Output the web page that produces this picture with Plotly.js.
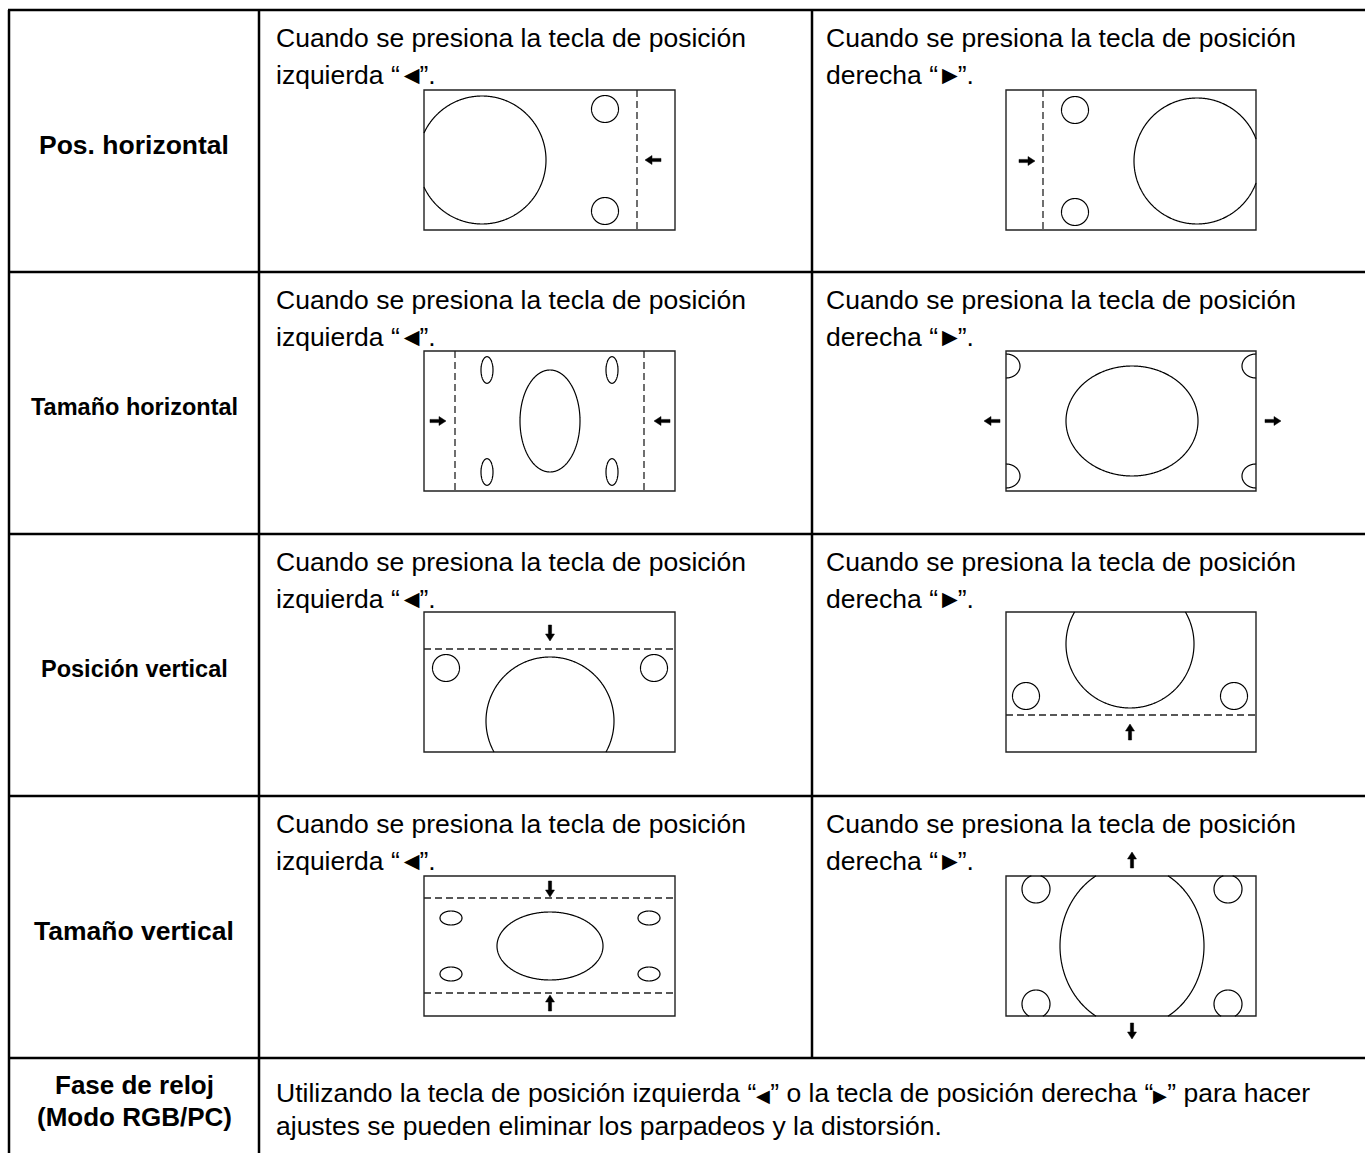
<!DOCTYPE html>
<html>
<head>
<meta charset="utf-8">
<script src="https://cdn.plot.ly/plotly-3.0.1.min.js"></script>
<style>
  body { margin: 0; background: #fff; }
  #graph { width: 1365px; height: 1153px; }
</style>
</head>
<body>
<div id="graph"></div>
<script>
// *********************************************************************************************
// DATA

const ROW_LABELS = [
    ["Pos. horizontal"],
    ["Tamaño horizontal"],
    ["Posición vertical"],
    ["Tamaño vertical"],
    ["Fase de reloj", "(Modo RGB/PC)"]
];
const LEFT_TEXT = ["Cuando se presiona la tecla de posición", "izquierda <span style=\"letter-spacing:-1px\">“</span><span style=\"font-size:26px;letter-spacing:-5px\">◄</span>”."];
const RIGHT_TEXT = ["Cuando se presiona la tecla de posición", "derecha <span style=\"letter-spacing:-1px\">“</span><span style=\"font-size:26px;letter-spacing:-5px\">►</span>”."];
const NOTE_TEXT = [
    "Utilizando la tecla de posición izquierda “<span style=\"font-size:18px\">◀</span>” o la tecla de posición derecha “<span style=\"font-size:18px\">▶</span>” para hacer",
    "ajustes se pueden eliminar los parpadeos y la distorsión."
];

// table grid (px)
const ROW_LINES = [10, 272, 534, 796, 1058];
const COL_LINES = [9, 259, 812];

// screen boxes: left / right column, one per row
const SCREEN_X = [[424, 675], [1006, 1256]];
const SCREEN_TOP = [90, 351, 612, 876];
const SCREEN_H = 140;

// ellipses [panel, cx, cy, rx, ry]  (panel = row * 2 + side)
const ELLIPSES = [
    [0, 482, 160, 64, 64], [0, 605, 109, 13.5, 13.5], [0, 605, 211, 13.5, 13.5],
    [1, 1197, 161, 63, 63], [1, 1075, 110, 13.5, 13.5], [1, 1075, 212, 13.5, 13.5],
    [2, 550, 421, 30, 51], [2, 487, 370, 6, 13.3], [2, 612, 370, 6, 13.3], [2, 487, 472, 6, 13.3], [2, 612, 472, 6, 13.3],
    [3, 1132, 421, 66, 55], [3, 1006, 366, 14, 12], [3, 1006, 476, 14, 12], [3, 1256, 366, 14, 12], [3, 1256, 476, 14, 12],
    [4, 550, 721, 64, 64], [4, 446, 668, 13.5, 13.5], [4, 654, 668, 13.5, 13.5],
    [5, 1130, 644, 64, 64], [5, 1026, 696, 13.5, 13.5], [5, 1234, 696, 13.5, 13.5],
    [6, 550, 946, 53, 34], [6, 451, 918, 11, 7], [6, 649, 918, 11, 7], [6, 451, 974, 11, 7], [6, 649, 974, 11, 7],
    [7, 1132, 946, 72, 81], [7, 1036, 889, 14, 14], [7, 1228, 889, 14, 14], [7, 1036, 1004, 14, 14], [7, 1228, 1004, 14, 14]
];

// dashed guides [panel, orientation, position]
const GUIDES = [
    [0, "v", 637], [1, "v", 1043],
    [2, "v", 455], [2, "v", 644],
    [4, "h", 649], [5, "h", 715],
    [6, "h", 898], [6, "h", 993]
];

// arrows [cx, cy, direction]
const ARROWS = [
    [653, 160, "left"], [1027, 161, "right"],
    [438, 421, "right"], [662, 421, "left"], [992, 421, "left"], [1273, 421, "right"],
    [550, 633, "down"], [1130, 732, "up"],
    [550, 889, "down"], [550, 1003, "up"], [1132, 860, "up"], [1132, 1031, "down"]
];


// *********************************************************************************************
// HELPERS

const FONT = "Liberation Sans, Arial, Helvetica, sans-serif";

const panelBox = (p) => {
    const row = Math.floor(p / 2), side = p % 2;
    return { x0: SCREEN_X[side][0], x1: SCREEN_X[side][1], y0: SCREEN_TOP[row], y1: SCREEN_TOP[row] + SCREEN_H };
};

// ellipse outline clipped to the screen box
const ellipsePath = (cx, cy, rx, ry, box) => {
    let d = "", pen = false;
    const n = 720;
    for (let i = 0; i <= n; i++) {
        const t = i / n * 2 * Math.PI;
        const x = cx + rx * Math.cos(t), y = cy + ry * Math.sin(t);
        const inside = x >= box.x0 - 0.2 && x <= box.x1 + 0.2 && y >= box.y0 - 0.2 && y <= box.y1 + 0.2;
        if (inside) {
            d += (pen ? "L" : "M") + x.toFixed(2) + "," + y.toFixed(2);
            pen = true;
        } else {
            pen = false;
        }
    }
    return d;
};

const DIRS = { right: [1, 0], left: [-1, 0], down: [0, 1], up: [0, -1] };
const arrowPath = (cx, cy, dir) => {
    const [dx, dy] = DIRS[dir];
    const pts = [[-8, -1.6], [1, -1.6], [1, -4.5], [8, 0], [1, 4.5], [1, 1.6], [-8, 1.6]];
    return pts.map((p, i) => (i ? "L" : "M") +
        (cx + p[0] * dx - p[1] * dy).toFixed(2) + "," + (cy + p[0] * dy + p[1] * dx).toFixed(2)).join("") + "Z";
};


// *********************************************************************************************
// SHAPES

const shapes = [];
const gridLine = { color: "black", width: 2.5 };

ROW_LINES.forEach(y => shapes.push({ type: "line", x0: COL_LINES[0] - 1, x1: 1365, y0: y, y1: y, line: gridLine }));
shapes.push({ type: "line", x0: COL_LINES[0], x1: COL_LINES[0], y0: ROW_LINES[0], y1: 1153, line: gridLine });
shapes.push({ type: "line", x0: COL_LINES[1], x1: COL_LINES[1], y0: ROW_LINES[0], y1: 1153, line: gridLine });
shapes.push({ type: "line", x0: COL_LINES[2], x1: COL_LINES[2], y0: ROW_LINES[0], y1: ROW_LINES[4], line: gridLine });

for (let p = 0; p < 8; p++) {
    const b = panelBox(p);
    shapes.push({ type: "rect", x0: b.x0, x1: b.x1, y0: b.y0, y1: b.y1, line: { color: "#222", width: 1.4 } });
}

GUIDES.forEach(([p, o, v]) => {
    const b = panelBox(p);
    const s = o === "v" ? { x0: v, x1: v, y0: b.y0, y1: b.y1 } : { x0: b.x0, x1: b.x1, y0: v, y1: v };
    shapes.push(Object.assign({ type: "line", line: { color: "#222", width: 1.3, dash: "7px,4px" } }, s));
});

ELLIPSES.forEach(([p, cx, cy, rx, ry]) => {
    const d = ellipsePath(cx, cy, rx, ry, panelBox(p));
    if (d) shapes.push({ type: "path", path: d, line: { color: "black", width: 1.2 } });
});

ARROWS.forEach(([cx, cy, dir]) => {
    shapes.push({ type: "path", path: arrowPath(cx, cy, dir), fillcolor: "black", line: { color: "black", width: 0.5 } });
});


// *********************************************************************************************
// TEXT

const annotations = [];
const txt = (text, x, y, size, bold, anchor) => annotations.push({
    text: bold ? "<b>" + text + "</b>" : text,
    x: x, y: y, xref: "x", yref: "y",
    xanchor: anchor || "left", yanchor: "middle", showarrow: false,
    font: { family: FONT, size: size, color: "black" }
});

const labelX = (COL_LINES[0] + COL_LINES[1]) / 2;
ROW_LABELS.forEach((lines, r) => {
    if (r < 4) {
        const size = lines[0].length > 16 ? 23.5 : 26.5;
        txt(lines[0], labelX, ROW_LINES[r] + 135, size, true, "center");
    } else {
        txt(lines[0], labelX, 1085, 26, true, "center");
        txt(lines[1], labelX, 1117, 26, true, "center");
    }
});

for (let r = 0; r < 4; r++) {
    txt(LEFT_TEXT[0], 274, ROW_LINES[r] + 28, 26.5);
    txt(LEFT_TEXT[1], 274, ROW_LINES[r] + 65, 26.5);
    txt(RIGHT_TEXT[0], 824, ROW_LINES[r] + 28, 26.5);
    txt(RIGHT_TEXT[1], 824, ROW_LINES[r] + 65, 26.5);
}
txt(NOTE_TEXT[0], 274, 1093, 26.5);
txt(NOTE_TEXT[1], 274, 1126, 26.5);


// *********************************************************************************************
// LAYOUT / CONFIG

const layout = {
    width: 1365,
    height: 1153,
    margin: { t: 0, r: 0, b: 0, l: 0 },
    paper_bgcolor: "white",
    plot_bgcolor: "white",
    showlegend: false,
    xaxis: { range: [0, 1365], visible: false, fixedrange: true },
    yaxis: { range: [1153, 0], visible: false, fixedrange: true },
    shapes: shapes,
    annotations: annotations
};

const config = { staticPlot: true, displayModeBar: false };

Plotly.newPlot("graph", [], layout, config);
</script>
</body>
</html>
